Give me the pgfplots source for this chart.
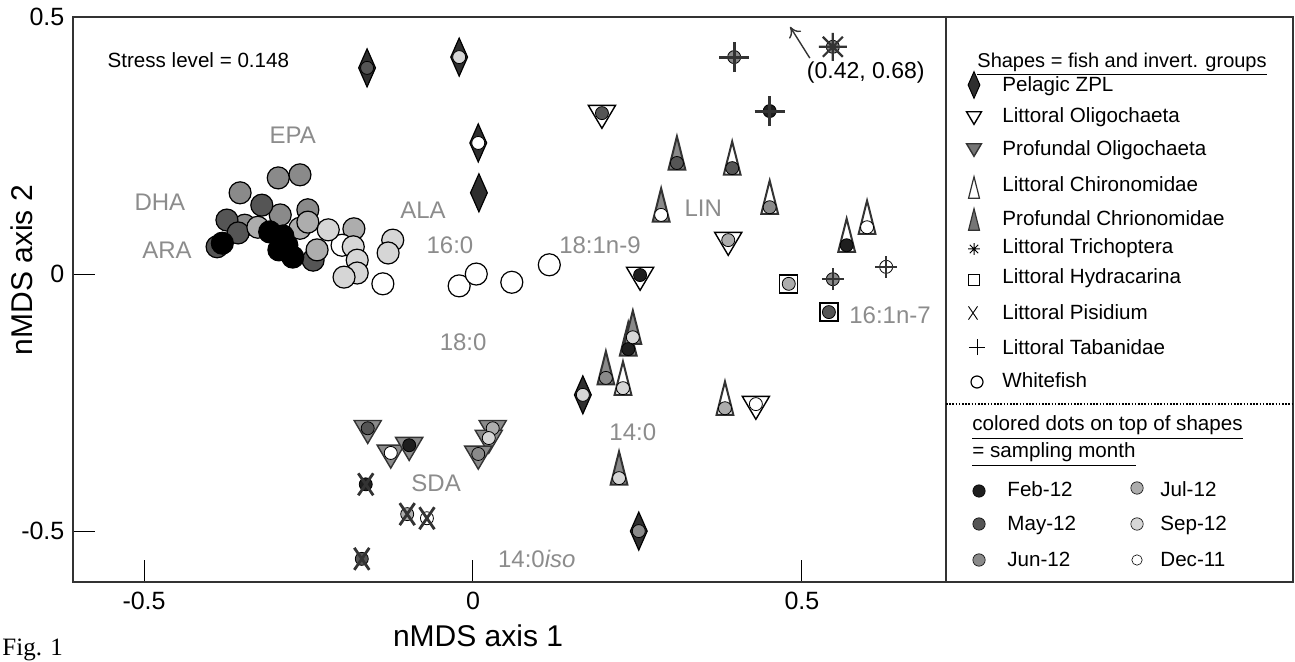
\documentclass[border=0pt]{standalone}
\usepackage{fontspec}
\setmainfont{Liberation Sans}
\newfontfamily\serif{Liberation Serif}
\usepackage{pgfplots}
\pgfplotsset{compat=1.18}
\usetikzlibrary{arrows.meta}

\definecolor{wfeb}{HTML}{000000}
\definecolor{feb}{HTML}{1E1E1E}
\definecolor{may}{HTML}{555555}
\definecolor{jun}{HTML}{8A8A8A}
\definecolor{jul}{HTML}{ADADAD}
\definecolor{sep}{HTML}{D6D6D6}
\definecolor{dec}{HTML}{FFFFFF}
\definecolor{lab}{HTML}{8C8C8C}
\definecolor{frame}{HTML}{333333}
\definecolor{zplfill}{HTML}{2E2E2E}
\definecolor{proffill}{HTML}{8A8A8A}

% shapes for the groups (sizes in pt, origin = where the month dot sits)
\pgfdeclareplotmark{zpl}{%
  \pgfpathmoveto{\pgfqpoint{0pt}{9.5pt}}\pgfpathlineto{\pgfqpoint{4.2pt}{0pt}}%
  \pgfpathlineto{\pgfqpoint{0pt}{-9.5pt}}\pgfpathlineto{\pgfqpoint{-4.2pt}{0pt}}%
  \pgfpathclose\pgfusepathqfillstroke}
\pgfdeclareplotmark{dtri}{%
  \pgfpathmoveto{\pgfqpoint{-6.8pt}{3.9pt}}\pgfpathlineto{\pgfqpoint{6.8pt}{3.9pt}}%
  \pgfpathlineto{\pgfqpoint{0pt}{-7.6pt}}\pgfpathclose\pgfusepathqfillstroke}
\pgfdeclareplotmark{ttri}{%
  \pgfpathmoveto{\pgfqpoint{0pt}{13.3pt}}\pgfpathlineto{\pgfqpoint{4.2pt}{-3.3pt}}%
  \pgfpathlineto{\pgfqpoint{-4.2pt}{-3.3pt}}\pgfpathclose\pgfusepathqfillstroke}
\pgfdeclareplotmark{sq}{%
  \pgfpathrectangle{\pgfqpoint{-4.5pt}{-4.5pt}}{\pgfqpoint{9pt}{9pt}}\pgfusepathqfillstroke}
\pgfdeclareplotmark{bigplus}{%
  \pgfpathmoveto{\pgfqpoint{-7.5pt}{0pt}}\pgfpathlineto{\pgfqpoint{7.5pt}{0pt}}%
  \pgfpathmoveto{\pgfqpoint{0pt}{-7.5pt}}\pgfpathlineto{\pgfqpoint{0pt}{7.5pt}}\pgfusepathqstroke}
\pgfdeclareplotmark{smallplus}{%
  \pgfpathmoveto{\pgfqpoint{-5.5pt}{0pt}}\pgfpathlineto{\pgfqpoint{5.5pt}{0pt}}%
  \pgfpathmoveto{\pgfqpoint{0pt}{-5.5pt}}\pgfpathlineto{\pgfqpoint{0pt}{5.5pt}}\pgfusepathqstroke}
\pgfdeclareplotmark{ast}{%
  \pgfpathmoveto{\pgfqpoint{-7pt}{0pt}}\pgfpathlineto{\pgfqpoint{7pt}{0pt}}%
  \pgfpathmoveto{\pgfqpoint{0pt}{-7pt}}\pgfpathlineto{\pgfqpoint{0pt}{7pt}}%
  \pgfpathmoveto{\pgfqpoint{-5pt}{-5pt}}\pgfpathlineto{\pgfqpoint{5pt}{5pt}}%
  \pgfpathmoveto{\pgfqpoint{-5pt}{5pt}}\pgfpathlineto{\pgfqpoint{5pt}{-5pt}}\pgfusepathqstroke}
\pgfdeclareplotmark{bigx}{%
  \pgfpathmoveto{\pgfqpoint{-3.75pt}{-5.5pt}}\pgfpathlineto{\pgfqpoint{3.75pt}{5.5pt}}%
  \pgfpathmoveto{\pgfqpoint{-3.75pt}{5.5pt}}\pgfpathlineto{\pgfqpoint{3.75pt}{-5.5pt}}\pgfusepathqstroke}

\begin{document}
\begin{tikzpicture}
\path[use as bounding box] (0,0) rectangle (647.5pt,331pt);

\begin{axis}[at={(36.5pt,40pt)},anchor=south west,scale only axis,width=436.5pt,height=282.5pt,
  xmin=-0.608,xmax=0.719,ymin=-0.599,ymax=0.5,
  xtick={-0.5,0,0.5},xticklabels={-0.5,0,0.5},ytick={-0.5,0,0.5},yticklabels={-0.5,0,0.5},
  xtick pos=bottom,ytick pos=left,tick align=inside,major tick length=11pt,
  tick style={black,line width=0.5pt},axis line style={frame,line width=0.8pt},
  ticklabel style={font=\fontsize{12.5}{14}\selectfont},
  xticklabel style={yshift=-1.3pt},yticklabel style={xshift=-0.8pt},
  xlabel={nMDS axis 1},ylabel={nMDS axis 2},label style={font=\fontsize{15}{17}\selectfont},
  xlabel style={at={(axis description cs:0.464,-0.0956)},anchor=center},
  ylabel style={at={(axis description cs:-0.0584,0.552)},anchor=center},
  clip=false]

% whitefish
\addplot[only marks,mark=*,mark size=5.5pt,mark options={draw=black,line width=0.6pt,fill=jun}] coordinates {
  (-0.263,0.193)(-0.296,0.187)(-0.354,0.158)(-0.293,0.115)(-0.251,0.125)(-0.347,0.095)};
\addplot[only marks,mark=*,mark size=5.5pt,mark options={draw=black,line width=0.6pt,fill=may}] coordinates {
  (-0.321,0.134)(-0.374,0.105)(-0.389,0.053)(-0.357,0.080)(-0.243,0.027)};
\addplot[only marks,mark=*,mark size=5.5pt,mark options={draw=black,line width=0.6pt,fill=jul}] coordinates {
  (-0.327,0.091)(-0.263,0.089)(-0.251,0.101)(-0.237,0.047)(-0.181,0.088)};
\addplot[only marks,mark=*,mark size=5.5pt,mark options={draw=black,line width=0.6pt,fill=wfeb}] coordinates {
  (-0.381,0.060)(-0.309,0.082)(-0.289,0.074)(-0.295,0.047)(-0.274,0.033)(-0.283,0.056)};
\addplot[only marks,mark=*,mark size=5.5pt,mark options={draw=black,line width=0.6pt,fill=dec}] coordinates {
  (-0.199,0.056)(-0.137,-0.019)(-0.021,-0.023)(0.005,0.000)(0.059,-0.016)(0.116,0.018)};
\addplot[only marks,mark=*,mark size=5.5pt,mark options={draw=black,line width=0.6pt,fill=sep}] coordinates {
  (-0.220,0.086)(-0.182,0.053)(-0.176,0.027)(-0.176,0.002)(-0.196,-0.006)(-0.122,0.066)(-0.129,0.041)};

% pelagic ZPL
\addplot[only marks,mark=zpl,mark options={draw=black,fill=zplfill,line width=0.6pt}] coordinates {
  (-0.161,0.401)(-0.021,0.422)(0.008,0.255)(0.009,0.158)(0.167,-0.235)(0.252,-0.500)};
% littoral oligochaeta
\addplot[only marks,mark=dtri,mark options={draw=black,fill=white,line width=0.7pt}] coordinates {
  (0.196,0.313)(0.254,-0.002)(0.388,0.066)(0.430,-0.253)};
% profundal oligochaeta
\addplot[only marks,mark=dtri,mark options={draw=frame,fill=proffill,line width=0.7pt}] coordinates {
  (-0.160,-0.300)(-0.125,-0.348)(-0.097,-0.333)(0.030,-0.300)(0.024,-0.319)(0.008,-0.350)};
% profundal chironomidae
\addplot[only marks,mark=ttri,mark options={draw=frame,fill=proffill,line width=1pt}] coordinates {
  (0.310,0.216)(0.286,0.115)(0.236,-0.146)(0.243,-0.123)(0.202,-0.202)(0.222,-0.397)};
% littoral chironomidae
\addplot[only marks,mark=ttri,mark options={draw=frame,fill=white,line width=1pt}] coordinates {
  (0.394,0.206)(0.451,0.130)(0.568,0.056)(0.599,0.091)(0.228,-0.222)(0.383,-0.261)};
% littoral hydracarina
\addplot[only marks,mark=sq,mark options={draw=black,fill=white,line width=0.7pt}] coordinates {
  (0.480,-0.019)(0.541,-0.074)};

% sampling month dots
\addplot[only marks,mark=*,mark size=3.25pt,mark options={draw=black,line width=0.4pt,fill=feb}] coordinates {
  (0.254,-0.002)(-0.097,-0.333)(0.568,0.056)(0.236,-0.146)(0.451,0.317)(-0.163,-0.409)};
\addplot[only marks,mark=*,mark size=3.25pt,mark options={draw=black,line width=0.4pt,fill=may}] coordinates {
  (-0.161,0.401)(0.196,0.313)(-0.160,-0.300)(0.394,0.206)(0.310,0.216)(0.541,-0.074)(-0.169,-0.554)};
\addplot[only marks,mark=*,mark size=3.25pt,mark options={draw=black,line width=0.4pt,fill=jun}] coordinates {
  (0.252,-0.500)(0.008,-0.350)(0.451,0.130)(0.202,-0.202)(0.547,0.442)(0.397,0.422)(0.547,-0.010)};
\addplot[only marks,mark=*,mark size=3.25pt,mark options={draw=black,line width=0.4pt,fill=jul}] coordinates {
  (0.388,0.066)(0.030,-0.300)(0.383,-0.261)(0.480,-0.019)(-0.100,-0.467)};
\addplot[only marks,mark=*,mark size=3.25pt,mark options={draw=black,line width=0.4pt,fill=sep}] coordinates {
  (-0.021,0.422)(0.167,-0.235)(0.024,-0.319)(0.228,-0.222)(0.243,-0.123)(0.222,-0.397)};
\addplot[only marks,mark=*,mark size=3.25pt,mark options={draw=black,line width=0.4pt,fill=dec}] coordinates {
  (0.008,0.255)(0.430,-0.253)(-0.125,-0.348)(0.286,0.115)(0.599,0.091)(0.628,0.014)(-0.070,-0.475)};

% stroked shapes on top of their dots
\addplot[only marks,mark=bigplus,mark options={draw=frame,line width=1.5pt}] coordinates {
  (0.397,0.422)(0.451,0.317)};
\addplot[only marks,mark=smallplus,mark options={draw=frame,line width=1.3pt}] coordinates {
  (0.547,-0.010)(0.628,0.014)};
\addplot[only marks,mark=ast,mark options={draw=frame,line width=1.1pt}] coordinates {(0.547,0.442)};
\addplot[only marks,mark=bigx,mark options={draw=frame,line width=1.4pt}] coordinates {
  (-0.163,-0.409)(-0.169,-0.554)(-0.100,-0.467)(-0.070,-0.475)};

% fatty acid labels
\begin{scope}[every node/.style={text=lab,font=\fontsize{12}{14}\selectfont}]
\node at (axis cs:-0.274,0.270) {EPA};
\node at (axis cs:-0.476,0.140) {DHA};
\node at (axis cs:-0.465,0.047) {ARA};
\node at (axis cs:-0.076,0.125) {ALA};
\node at (axis cs:-0.035,0.056) {16:0};
\node at (axis cs:0.193,0.056) {18:1n-9};
\node at (axis cs:0.350,0.128) {LIN};
\node at (axis cs:0.634,-0.080) {16:1n-7};
\node at (axis cs:-0.015,-0.132) {18:0};
\node at (axis cs:0.243,-0.307) {14:0};
\node at (axis cs:-0.056,-0.407) {SDA};
\node at (axis cs:0.097,-0.554) {14:0\textit{iso}};
\end{scope}
\node[anchor=west,inner sep=0pt,font=\fontsize{10.3}{12}\selectfont] at (axis cs:-0.556,0.416) {Stress level = 0.148};
\node[font=\fontsize{11.5}{13}\selectfont] at (axis cs:0.597,0.391) {(0.42, 0.68)};
\draw[frame,line width=0.7pt,-{To[length=5pt,width=7pt]}] (axis cs:0.512,0.420) -- (axis cs:0.482,0.481);
\end{axis}

% legend panel
\begin{axis}[at={(473pt,40pt)},anchor=south west,scale only axis,width=173.5pt,height=282.5pt,
  xmin=946,xmax=1293,ymin=17,ymax=582,y dir=reverse,ticks=none,
  axis line style={frame,line width=0.8pt},clip=false]
\addplot[only marks,mark=zpl,mark options={scale=0.7,draw=black,fill=zplfill,line width=0.5pt}] coordinates {(974,85)};
\addplot[only marks,mark=dtri,mark options={scale=0.55,draw=black,fill=white,line width=0.7pt}] coordinates {(974,116)};
\addplot[only marks,mark=dtri,mark options={scale=0.55,draw=frame,fill=proffill!85!black,line width=0.7pt}] coordinates {(974,148)};
\addplot[only marks,mark=ttri,mark options={scale=0.65,draw=frame,fill=white,line width=0.6pt}] coordinates {(974,194)};
\addplot[only marks,mark=ttri,mark options={scale=0.65,draw=frame,fill=proffill!85!black,line width=0.6pt}] coordinates {(974,226)};
\addplot[only marks,mark=ast,mark options={scale=0.42,draw=black,line width=0.5pt}] coordinates {(974,249)};
\addplot[only marks,mark=sq,mark options={scale=0.6,draw=black,fill=white,line width=0.8pt}] coordinates {(974,280)};
\addplot[only marks,mark=bigx,mark options={scale=0.6,draw=black,line width=0.45pt}] coordinates {(973,313)};
\addplot[only marks,mark=smallplus,mark options={scale=0.75,draw=black,line width=0.45pt}] coordinates {(977,347)};
\addplot[only marks,mark=*,mark size=3pt,mark options={draw=black,fill=white,line width=0.6pt}] coordinates {(977,382)};

\addplot[only marks,mark=*,mark size=3.1pt,mark options={draw=black,line width=0.3pt,fill=feb}] coordinates {(979,491)};
\addplot[only marks,mark=*,mark size=3.1pt,mark options={draw=black,line width=0.3pt,fill=may}] coordinates {(979,524)};
\addplot[only marks,mark=*,mark size=3.1pt,mark options={draw=black,line width=0.3pt,fill=jun}] coordinates {(979,560)};
\addplot[only marks,mark=*,mark size=3.1pt,mark options={draw=black,line width=0.3pt,fill=jul}] coordinates {(1137,488)};
\addplot[only marks,mark=*,mark size=3.1pt,mark options={draw=black,line width=0.3pt,fill=sep}] coordinates {(1137,524)};
\addplot[only marks,mark=*,mark size=2.6pt,mark options={draw=black,line width=0.3pt,fill=dec}] coordinates {(1137,560)};

\draw[black,line width=1pt,dash pattern=on 0.8pt off 0.8pt] (axis cs:946,404) -- (axis cs:1293,404);

\begin{scope}[every node/.style={anchor=base west,inner sep=0pt,font=\fontsize{10.3}{12}\selectfont}]
\node[font=\fontsize{10}{12}\selectfont] at (axis cs:977,67.5) {\underline{Shapes = fish and invert. groups}};
\node at (axis cs:1002,92) {Pelagic ZPL};
\node at (axis cs:1002,123) {Littoral Oligochaeta};
\node at (axis cs:1002,156) {Profundal Oligochaeta};
\node at (axis cs:1002,192) {Littoral Chironomidae};
\node at (axis cs:1002,226) {Profundal Chrionomidae};
\node at (axis cs:1002,254) {Littoral Trichoptera};
\node at (axis cs:1002,284) {Littoral Hydracarina};
\node at (axis cs:1002,320) {Littoral Pisidium};
\node at (axis cs:1002,355) {Littoral Tabanidae};
\node at (axis cs:1002,388) {Whitefish};
\node at (axis cs:972,431) {\underline{colored dots on top of shapes}};
\node at (axis cs:972,458) {\underline{= sampling month}};
\node at (axis cs:1007,497) {Feb-12};
\node at (axis cs:1007,531) {May-12};
\node at (axis cs:1007,567) {Jun-12};
\node at (axis cs:1160,497) {Jul-12};
\node at (axis cs:1160,531) {Sep-12};
\node at (axis cs:1160,567) {Dec-11};
\end{scope}
\end{axis}

\node[anchor=base west,inner sep=0pt,font=\serif\fontsize{12.5}{14}\selectfont] at (1pt,3pt) {Fig. 1};
\end{tikzpicture}
\end{document}
